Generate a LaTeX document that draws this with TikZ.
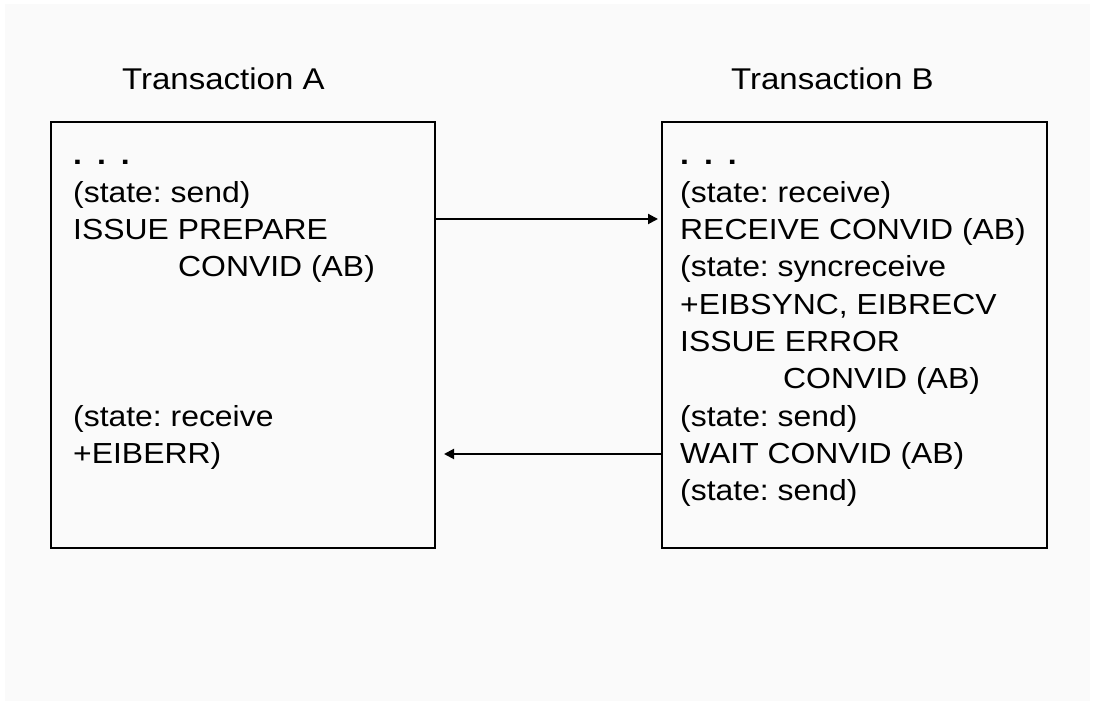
\documentclass[tikz,border=0pt]{standalone}
\usepackage{fontspec}
\setmainfont{Liberation Sans}[FakeStretch=1.1]
\usepackage{tikz}
\usepackage{xcolor}
\usetikzlibrary{positioning,arrows.meta}

\definecolor{paper}{HTML}{FAFAFA}
\newcommand{\bodyfont}{\fontsize{29}{37.3}\selectfont}
\newcommand{\headfont}{\fontsize{30}{37.3}\selectfont}
\newcommand{\tdots}{\textbf{.\hspace{15pt}.\hspace{15pt}.}}
\frenchspacing

\begin{document}
\begin{tikzpicture}
[
x = 1pt, y = 1pt,
box-a/.style={draw, line width = 2pt, anchor = south west, inner sep = 0pt},
line-a/.style={anchor = base west, inner sep = 0pt, font = \bodyfont},
title-a/.style={anchor = base west, inner sep = 0pt, font = \headfont},
arr-a/.style={line width = 2pt, -{Triangle[length = 10pt, width = 10pt]}}
]

\useasboundingbox (0,0) rectangle (1095,703);
\fill [paper] (5,2) rectangle (1090,699);

\node (box-a)   [box-a, minimum width = 384pt, minimum height = 426pt] at (50,154)  {};
\node (box-b)   [box-a, minimum width = 385pt, minimum height = 426pt] at (661,154) {};
\node (title-a) [title-a] at (122,613) {Transaction A};
\node (title-b) [title-a] at (731,613) {Transaction B};

% transaction A
\node (a-1) [line-a] at (73,538) {\tdots};
\node (a-2) [below = 37.3pt of a-1.base west, line-a] {(state: send)};
\node (a-3) [below = 37.3pt of a-2.base west, line-a] {ISSUE PREPARE};
\node (a-4) [below = 37.3pt of a-3.base west, line-a] {\hspace*{105pt}CONVID (AB)};
\node (a-8) [below = 149.2pt of a-4.base west, line-a] {(state: receive};
\node (a-9) [below = 37.3pt of a-8.base west, line-a] {+EIBERR)};

% transaction B
\node (b-1)  [line-a] at (680,538) {\tdots};
\node (b-2)  [below = 37.3pt of b-1.base west, line-a] {(state: receive)};
\node (b-3)  [below = 37.3pt of b-2.base west, line-a] {RECEIVE CONVID (AB)};
\node (b-4)  [below = 37.3pt of b-3.base west, line-a] {(state: syncreceive};
\node (b-5)  [below = 37.3pt of b-4.base west, line-a] {+EIBSYNC, EIBRECV};
\node (b-6)  [below = 37.3pt of b-5.base west, line-a] {ISSUE ERROR};
\node (b-7)  [below = 37.3pt of b-6.base west, line-a] {\hspace*{103pt}CONVID (AB)};
\node (b-8)  [below = 37.3pt of b-7.base west, line-a] {(state: send)};
\node (b-9)  [below = 37.3pt of b-8.base west, line-a] {WAIT CONVID (AB)};
\node (b-10) [below = 37.3pt of b-9.base west, line-a] {(state: send)};

\coordinate (prepare-y) at (0,484);
\coordinate (error-y)   at (0,249);
\draw [arr-a, shorten > = 3pt] (box-a.east |- prepare-y) -- (box-b.west |- prepare-y);
\draw [arr-a, shorten > = 8pt] (box-b.west |- error-y)   -- (box-a.east |- error-y);

\end{tikzpicture}
\end{document}
